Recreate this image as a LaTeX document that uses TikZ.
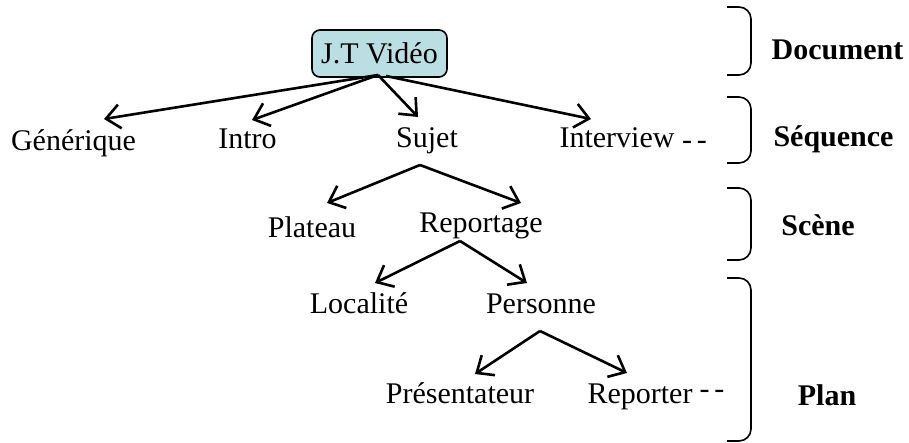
\documentclass[tikz,border=0pt]{standalone}
\usepackage{fontspec}
\setmainfont{Liberation Serif}
\usetikzlibrary{arrows.meta}
\definecolor{boxfill}{HTML}{BADFE3}
\tikzset{
  lbl/.style={inner sep=0pt, anchor=base, font=\fontsize{15}{18}\selectfont},
  lvl/.style={inner sep=0pt, anchor=base, font=\fontsize{15}{18}\selectfont\bfseries},
  arr/.style={line width=1.3pt, -{Straight Barb[length=7pt,width=12pt,line width=1.3pt]}},
  brc/.style={line width=0.8pt, rounded corners=6pt},
  rootbox/.style={draw, line width=0.8pt, rounded corners=4pt, fill=boxfill,
    minimum width=67.5pt, minimum height=23.5pt, inner sep=0pt,
    font=\fontsize{15}{18}\selectfont}
}
\begin{document}
\begin{tikzpicture}[x=0.5pt,y=-0.5pt]
\useasboundingbox (0,0) rectangle (909,443);
% nodes
\node[rootbox] (jt) at (379.5,53.5) {J.T Vidéo};
\node[lbl] (gen) at (73.5,151) {Générique};
\node[lbl] (intro) at (247.5,149) {Intro};
\node[lbl] (sujet) at (427,148) {Sujet};
\node[lbl] (interview) at (617,148) {Interview};
\node[lbl] (d1) at (694.5,149.5) {-\,-};
\node[lbl] (plateau) at (312,237) {Plateau};
\node[lbl] (reportage) at (481,233) {Reportage};
\node[lbl] (localite) at (359,313) {Localité};
\node[lbl] (personne) at (541,313) {Personne};
\node[lbl] (present) at (460,403) {Présentateur};
\node[lbl] (reporter) at (640,403) {Reporter};
\node[lbl] (d2) at (712,398.5) {-\,-};
\node[lvl] (ldoc) at (837.5,60) {Document};
\node[lvl] (lseq) at (833.5,147) {Séquence};
\node[lvl] (lsce) at (818,235) {Scène};
\node[lvl] (lplan) at (827,405) {Plan};
% connector points
\coordinate (jA) at (378,75);
\coordinate (jB) at (386,76);
\coordinate (tGen) at (104,119);
\coordinate (tIntro) at (252,120);
\coordinate (tSujet) at (418,117);
\coordinate (tInter) at (591,119);
\coordinate (sA) at (420,165);
\coordinate (tPlat) at (327,203);
\coordinate (tRep) at (521,203);
\coordinate (rA) at (460,241);
\coordinate (tLoc) at (375,283);
\coordinate (tPers) at (527,283);
\coordinate (pA) at (540,331);
\coordinate (tPres) at (475,374);
\coordinate (tRepr) at (627,373);
% connectors
\draw[arr] (jA) -- (tGen);
\draw[arr] (jA) -- (tIntro);
\draw[arr] (jA) -- (tSujet);
\draw[arr] (jB) -- (tInter);
\draw[arr] (sA) -- (tPlat);
\draw[arr] (sA) -- (tRep);
\draw[arr] (rA) -- (tLoc);
\draw[arr] (rA) -- (tPers);
\draw[arr] (pA) -- (tPres);
\draw[arr] (pA) -- (tRepr);
% braces
\draw[brc] (727,7) -- (751,7) -- (751,75) -- (727,75);
\draw[brc] (727,97) -- (751,97) -- (751,163) -- (727,163);
\draw[brc] (727,188) -- (751,188) -- (751,260) -- (727,260);
\draw[brc] (727,278) -- (751,278) -- (751,441) -- (727,441);
\end{tikzpicture}
\end{document}
